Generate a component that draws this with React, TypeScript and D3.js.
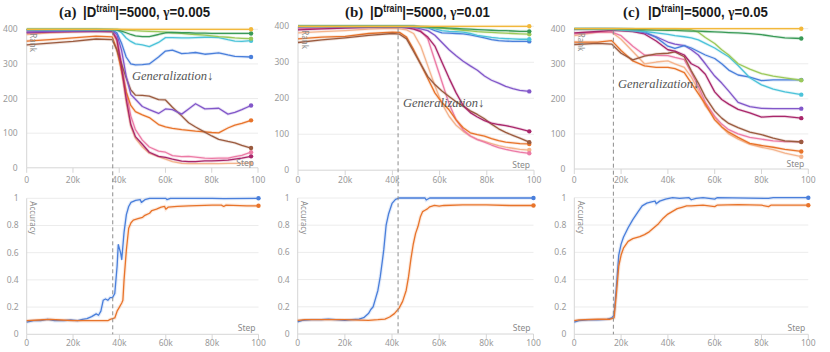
import React from "react";
import * as d3 from "d3";

// ---------- tick labels / text ----------
const stepTickValues = [0, 20, 40, 60, 80, 100];
const stepTickLabels = ["0", "20k", "40k", "60k", "80k", "100"];
const rankTickValues = [0, 100, 200, 300, 400];
const accTickValues = [0, 0.2, 0.4, 0.6, 0.8, 1];
const accTickLabels = ["0", "0.2", "0.4", "0.6", "0.8", "1"];
const panelLetters = ["(a)", "(b)", "(c)"];
const trainSizes = ["5000", "5000", "5000"];
const gammas = ["0.005", "0.01", "0.05"];
const generalizationStep = [37.2, 42.4, 16.7];

// ---------- rank data (panel a) ----------
const rankStepsA = [0, 10, 20, 30, 37, 39, 41, 43, 45, 47, 50, 53, 57, 60, 63, 67, 70, 73, 77, 80, 83, 87, 90, 93, 97];
const yellowA = [400, 400, 400, 400, 400, 400, 400, 400, 400, 400, 400, 400, 400, 400, 400, 400, 400, 400, 400, 400, 400, 400, 400, 400, 400];
const greenA = [400, 400, 400, 400, 399, 398, 395, 390, 385, 381, 379, 379, 385, 390, 391, 390, 390, 389, 389, 388, 388, 388, 388, 388, 388];
const lightGreenA = [400, 400, 400, 400, 400, 400, 399, 398, 397, 396, 395, 394, 393, 392, 390, 388, 386, 385, 383, 381, 379, 377, 375, 374, 373];
const cyanA = [399, 399, 399, 399, 399, 398, 390, 375, 365, 358, 355, 350, 362, 376, 376, 375, 375, 376, 377, 377, 376, 370, 366, 365, 367];
const blueA = [398, 398, 398, 398, 398, 390, 360, 320, 300, 297, 298, 300, 320, 337, 340, 330, 331, 333, 328, 330, 332, 326, 322, 321, 320];
const purpleA = [392, 394, 395, 396, 396, 385, 340, 265, 212, 198, 177, 168, 157, 170, 168, 155, 170, 185, 170, 171, 172, 155, 160, 168, 180];
const magentaA = [390, 392, 393, 394, 393, 370, 290, 200, 125, 90, 68, 45, 33, 30, 25, 19, 18, 18, 20, 20, 21, 22, 25, 28, 33];
const brownA = [355, 360, 365, 372, 370, 340, 300, 260, 225, 210, 209, 207, 197, 196, 175, 150, 130, 118, 103, 92, 82, 76, 72, 65, 57];
const orangeA = [366, 370, 375, 380, 378, 340, 280, 220, 180, 162, 153, 145, 125, 118, 114, 110, 108, 106, 104, 102, 101, 115, 123, 128, 137];
const pinkA = [395, 396, 397, 397, 396, 375, 300, 220, 150, 110, 80, 60, 48, 45, 35, 32, 33, 31, 28, 27, 28, 28, 32, 36, 45];
const peachA = [385, 390, 392, 395, 392, 365, 280, 190, 120, 85, 60, 42, 32, 25, 18, 13, 12, 12, 12, 12, 12, 13, 13, 13, 14];

// ---------- rank data (panel b) ----------
const rankStepsB = [0, 10, 20, 30, 40, 43, 46, 49, 52, 55, 58, 61, 64, 67, 70, 73, 76, 79, 82, 85, 88, 91, 94, 98];
const yellowB = [400, 400, 400, 400, 400, 400, 400, 400, 400, 400, 400, 400, 400, 400, 400, 400, 400, 400, 400, 400, 400, 400, 400, 400];
const greenB = [400, 400, 400, 400, 400, 400, 400, 400, 399, 398, 397, 396, 395, 394, 393, 392, 391, 390, 389, 388, 388, 387, 386, 386];
const lightGreenB = [400, 400, 400, 400, 400, 400, 400, 400, 399, 398, 396, 395, 393, 391, 389, 387, 385, 384, 383, 382, 381, 380, 379, 378];
const cyanB = [400, 400, 400, 400, 400, 400, 400, 400, 399, 398, 393, 388, 386, 385, 384, 380, 375, 372, 369, 367, 366, 365, 364, 364];
const blueB = [400, 400, 400, 400, 400, 400, 400, 400, 398, 396, 388, 382, 381, 380, 379, 376, 372, 368, 363, 360, 359, 358, 358, 358];
const purpleB = [398, 399, 399, 399, 399, 399, 398, 397, 393, 388, 375, 355, 335, 318, 303, 290, 278, 262, 250, 242, 233, 227, 222, 219];
const magentaB = [390, 393, 395, 397, 398, 398, 396, 392, 385, 370, 345, 300, 256, 215, 180, 160, 148, 138, 131, 127, 124, 120, 115, 108];
const brownB = [355, 362, 368, 375, 380, 378, 365, 330, 295, 260, 238, 220, 205, 190, 178, 165, 155, 143, 128, 115, 105, 97, 89, 78];
const orangeB = [365, 370, 372, 380, 384, 383, 370, 335, 295, 255, 215, 188, 168, 140, 118, 104, 99, 95, 88, 82, 78, 76, 74, 73];
const pinkB = [393, 395, 397, 398, 398, 398, 397, 395, 388, 365, 305, 245, 185, 140, 112, 95, 85, 78, 70, 63, 58, 54, 50, 47];
const peachB = [382, 385, 388, 392, 394, 393, 390, 380, 345, 290, 235, 185, 150, 125, 108, 95, 86, 80, 74, 68, 64, 61, 58, 56];

// ---------- rank data (panel c) ----------
const rankStepsC = [0, 10, 16, 20, 25, 30, 35, 40, 43, 47, 50, 53, 56, 60, 63, 66, 70, 75, 80, 85, 90, 97];
const yellowC = [400, 400, 400, 400, 400, 400, 400, 400, 400, 400, 400, 400, 400, 400, 400, 400, 400, 400, 400, 400, 400, 400];
const greenC = [400, 400, 400, 399, 398, 397, 396, 395, 395, 394, 393, 393, 392, 391, 390, 389, 388, 386, 383, 378, 374, 372];
const lightGreenC = [400, 400, 400, 400, 400, 400, 400, 399, 399, 398, 397, 390, 375, 358, 340, 325, 300, 285, 272, 265, 260, 253];
const cyanC = [400, 399, 398, 396, 394, 392, 388, 384, 380, 377, 374, 368, 358, 345, 332, 320, 295, 260, 240, 228, 220, 212];
const blueC = [400, 400, 400, 400, 399, 392, 375, 350, 344, 352, 345, 335, 325, 315, 300, 282, 268, 262, 252, 254, 254, 254];
const purpleC = [398, 399, 399, 398, 395, 388, 377, 362, 356, 352, 340, 325, 300, 265, 245, 222, 190, 178, 173, 172, 172, 172];
const magentaC = [388, 392, 395, 394, 392, 385, 365, 340, 336, 325, 300, 290, 270, 220, 198, 185, 170, 160, 148, 150, 150, 145];
const brownC = [355, 358, 356, 330, 311, 322, 328, 330, 334, 320, 280, 245, 205, 165, 145, 130, 118, 105, 98, 88, 80, 77];
const orangeC = [362, 362, 366, 338, 308, 294, 290, 290, 286, 275, 245, 215, 185, 140, 120, 105, 90, 73, 67, 62, 56, 50];
const pinkC = [385, 390, 390, 380, 350, 325, 324, 323, 318, 312, 275, 235, 190, 150, 128, 112, 100, 90, 85, 80, 78, 78];
const peachC = [380, 390, 390, 370, 335, 300, 305, 308, 300, 290, 262, 225, 180, 148, 120, 100, 85, 70, 62, 55, 45, 35];

// ---------- accuracy data ----------
const accStepsBlueA = [0, 3, 6, 9, 12, 16, 19, 22, 24, 26, 28, 30, 31, 32, 33, 34, 35, 36, 37, 38, 39, 39.5, 40.5, 41, 42, 43, 44, 45, 47, 49, 49.5, 51, 53, 60, 60.5, 62, 80, 85, 100];
const accBlueA = [0.09, 0.1, 0.1, 0.11, 0.1, 0.1, 0.105, 0.1, 0.11, 0.115, 0.13, 0.15, 0.14, 0.17, 0.25, 0.26, 0.25, 0.27, 0.27, 0.3, 0.5, 0.66, 0.6, 0.55, 0.75, 0.88, 0.94, 0.97, 0.985, 0.99, 0.97, 0.99, 1.0, 1.0, 0.99, 1.0, 1.0, 0.998, 1.0];
const accStepsOrangeA = [0, 5, 10, 15, 20, 30, 35, 36, 37, 38, 39, 40, 41, 41.5, 42, 43, 44, 45, 46, 48, 50, 51, 53, 54, 56, 58, 59.5, 60, 61, 65, 70, 80, 84, 85, 86, 95, 100];
const accOrangeA = [0.1, 0.105, 0.11, 0.105, 0.1, 0.1, 0.1, 0.11, 0.115, 0.12, 0.17, 0.2, 0.23, 0.25, 0.4, 0.62, 0.78, 0.82, 0.84, 0.85, 0.86, 0.875, 0.89, 0.91, 0.92, 0.935, 0.94, 0.92, 0.935, 0.94, 0.945, 0.95, 0.95, 0.94, 0.95, 0.945, 0.945];

const accStepsBlueB = [0, 2, 6, 10, 13, 16, 20, 23, 26, 28, 30, 31, 32, 33, 34, 35, 36, 36.5, 37.5, 38.5, 40, 41.5, 43, 50, 54, 54.5, 56, 100];
const accBlueB = [0.09, 0.1, 0.105, 0.105, 0.11, 0.105, 0.1, 0.105, 0.11, 0.12, 0.15, 0.18, 0.2, 0.26, 0.32, 0.42, 0.55, 0.62, 0.8, 0.88, 0.96, 0.99, 1.0, 1.0, 1.0, 0.985, 1.0, 1.0];
const accStepsOrangeB = [0, 3, 10, 20, 30, 34, 37, 39, 41, 43, 44.5, 46, 47, 48, 49, 50, 51, 52, 53, 54, 55, 56, 58, 60, 62, 70, 80, 90, 100];
const accOrangeB = [0.1, 0.105, 0.105, 0.105, 0.1, 0.105, 0.11, 0.125, 0.15, 0.19, 0.24, 0.32, 0.42, 0.55, 0.66, 0.74, 0.79, 0.86, 0.9, 0.91, 0.92, 0.935, 0.945, 0.94, 0.945, 0.95, 0.95, 0.945, 0.945];

const accStepsBlueC = [0, 2, 6, 10, 14, 16, 17, 18, 19, 20, 21, 23, 25, 27, 29, 31, 33, 34.5, 35, 36.5, 39, 42, 45, 49, 50, 52, 55, 60, 61, 83, 85, 100];
const accBlueC = [0.09, 0.1, 0.105, 0.105, 0.11, 0.12, 0.14, 0.35, 0.58, 0.66, 0.71, 0.78, 0.84, 0.89, 0.94, 0.96, 0.97, 0.975, 0.955, 0.975, 0.99, 1.0, 0.995, 1.0, 0.985, 0.995, 1.0, 0.99, 1.0, 0.995, 1.0, 1.0];
const accStepsOrangeC = [0, 2, 10, 15, 17, 18, 19, 20, 21, 23, 25, 28, 30, 32, 34, 36, 38, 40, 42, 44, 46, 48, 50, 55, 60, 61, 70, 80, 83, 84, 100];
const accOrangeC = [0.1, 0.105, 0.11, 0.11, 0.12, 0.3, 0.5, 0.58, 0.63, 0.68, 0.7, 0.715, 0.73, 0.75, 0.78, 0.81, 0.85, 0.88, 0.9, 0.92, 0.93, 0.94, 0.94, 0.945, 0.935, 0.945, 0.95, 0.945, 0.935, 0.945, 0.945];

// ---------- assembled per panel ----------
const rankSteps = [rankStepsA, rankStepsB, rankStepsC];
const rankSeries = [
  [yellowA, greenA, lightGreenA, cyanA, blueA, purpleA, magentaA, brownA, orangeA, pinkA, peachA],
  [yellowB, greenB, lightGreenB, cyanB, blueB, purpleB, magentaB, brownB, orangeB, pinkB, peachB],
  [yellowC, greenC, lightGreenC, cyanC, blueC, purpleC, magentaC, brownC, orangeC, pinkC, peachC],
];
const accSeries = [
  [[accStepsBlueA, accBlueA], [accStepsOrangeA, accOrangeA]],
  [[accStepsBlueB, accBlueB], [accStepsOrangeB, accOrangeB]],
  [[accStepsBlueC, accBlueC], [accStepsOrangeC, accOrangeC]],
];

// ---------- styles / layout ----------
const rankColors = ["#f2b83a", "#3a9a57", "#9bc95a", "#4cc3d9", "#4a7fdb", "#8257c9", "#a9276b", "#9b5b3f", "#e8742b", "#ec7ba6", "#f4b48d"];
const accColors = ["#4a7fdb", "#e8742b"];
type Box = { x0: number; x1: number; yTop: number; yBot: number };
const topBoxes: Box[] = [
  { x0: 26.7, x1: 258, yTop: 29.3, yBot: 167.8 },
  { x0: 298, x1: 534, yTop: 26.3, yBot: 170.2 },
  { x0: 574.3, x1: 808.3, yTop: 28.7, yBot: 169 },
];
const botBoxes: Box[] = [
  { x0: 26.7, x1: 258.5, yTop: 198.3, yBot: 334.3 },
  { x0: 297.7, x1: 533.5, yTop: 198, yBot: 334 },
  { x0: 574.3, x1: 808.3, yTop: 197.7, yBot: 334.3 },
];
// [letter x, formula start x]
const titleLayout = [
  [59, 83],
  [345, 370],
  [623, 648],
];
const titleSqueeze = 0.88;
const genLabelPos = [[132, 80], [403, 107], [618, 87.5]];
const SANS = "'Noto Sans', 'DejaVu Sans', sans-serif";
const TSANS = "'Liberation Sans', Arial, sans-serif";
const TSERIF = "'Liberation Serif', 'Times New Roman', serif";
const TICK = "#9a9a9a";
const GRID = "#ececec";
const AXIS = "#d6d6d6";

function Panel({ i }: { i: number }) {
  const tb = topBoxes[i];
  const bb = botBoxes[i];
  const xT = d3.scaleLinear().domain([0, 100]).range([tb.x0, tb.x1]);
  const yT = d3.scaleLinear().domain([0, 400]).range([tb.yBot, tb.yTop]);
  const xB = d3.scaleLinear().domain([0, 100]).range([bb.x0, bb.x1]);
  const yB = d3.scaleLinear().domain([0, 1]).range([bb.yBot, bb.yTop]);
  const steps = rankSteps[i];
  const rankLine = d3
    .line<number>()
    .x((_, k) => xT(steps[k]))
    .y((d) => yT(d));
  const order = rankSeries[i].map((_, k) => k).reverse();
  const gx = xT(generalizationStep[i]);
  const [lx, fx] = titleLayout[i];

  return (
    <g>
      {/* title */}
      <text x={lx} y={17} fontWeight="bold" fontSize={15} fill="#1a1a1a" fontFamily={TSERIF}>
        {panelLetters[i]}
      </text>
      <g transform={`translate(${fx},17) scale(${titleSqueeze},1)`}>
        <text x={0} y={0} fontWeight="bold" fontSize={15} fill="#1a1a1a" fontFamily={TSANS}>
          |D<tspan fontSize={10} dy={-5.5}>train</tspan>
          <tspan dy={5.5}>{`|=${trainSizes[i]}, `}</tspan>
          <tspan fontFamily={TSERIF}>γ</tspan>
          {`=${gammas[i]}`}
        </text>
      </g>

      {/* ---- top (rank) chart ---- */}
      {rankTickValues.map((v) => (
        <g key={"rg" + v}>
          {v > 0 && <line x1={tb.x0} x2={tb.x1} y1={yT(v)} y2={yT(v)} stroke={GRID} />}
          <text x={tb.x0 - 9} y={yT(v)} dy="0.35em" textAnchor="end" fontSize={8.5} fill={TICK} fontFamily={SANS}>
            {v}
          </text>
        </g>
      ))}
      <line x1={tb.x0} x2={tb.x0} y1={tb.yTop} y2={tb.yBot} stroke={AXIS} />
      <line x1={tb.x0} x2={tb.x1} y1={tb.yBot} y2={tb.yBot} stroke={AXIS} />
      {stepTickValues.map((v, k) => (
        <g key={"tx" + v}>
          <line x1={xT(v)} x2={xT(v)} y1={tb.yBot} y2={tb.yBot + 5} stroke={AXIS} />
          <text x={xT(v)} y={183} textAnchor="middle" fontSize={8.5} fill={TICK} fontFamily={SANS}>
            {stepTickLabels[k]}
          </text>
        </g>
      ))}
      {order.map((k) => (
        <g key={"rl" + k}>
          <path d={rankLine(rankSeries[i][k]) || ""} fill="none" stroke={rankColors[k]} strokeWidth={3} strokeOpacity={0.18} />
          <path d={rankLine(rankSeries[i][k]) || ""} fill="none" stroke={rankColors[k]} strokeWidth={1.3} strokeLinejoin="round" />
          <circle cx={xT(steps[steps.length - 1])} cy={yT(rankSeries[i][k][steps.length - 1])} r={2.2} fill={rankColors[k]} />
        </g>
      ))}
      <text transform={`translate(${tb.x0 + 3.5},${tb.yTop + 4}) rotate(90)`} fontSize={8} fill="#8a8a8a" fontFamily={SANS}>
        Rank
      </text>
      <text x={tb.x1 - 4} y={tb.yBot - 2} textAnchor="end" fontSize={8.5} fill="#8a8a8a" fontFamily={SANS}>
        Step
      </text>
      <text
        x={genLabelPos[i][0]}
        y={genLabelPos[i][1]}
        fontSize={12.5}
        fontStyle="italic"
        fill="#555"
        fontFamily="'Liberation Serif', 'DejaVu Serif', serif"
      >
        Generalization↓
      </text>

      {/* ---- bottom (accuracy) chart ---- */}
      {accTickValues.map((v, k) => (
        <g key={"ag" + v}>
          {v > 0 && <line x1={bb.x0} x2={bb.x1} y1={yB(v)} y2={yB(v)} stroke={GRID} />}
          <text x={bb.x0 - 8} y={yB(v)} dy="0.35em" textAnchor="end" fontSize={8.5} fill={TICK} fontFamily={SANS}>
            {accTickLabels[k]}
          </text>
        </g>
      ))}
      <line x1={bb.x0} x2={bb.x0} y1={bb.yTop} y2={bb.yBot} stroke={AXIS} />
      <line x1={bb.x0} x2={bb.x1} y1={bb.yBot} y2={bb.yBot} stroke={AXIS} />
      {stepTickValues.map((v, k) => (
        <g key={"bx" + v}>
          <line x1={xB(v)} x2={xB(v)} y1={bb.yBot} y2={bb.yBot + 5} stroke={AXIS} />
          <text x={xB(v)} y={346} textAnchor="middle" fontSize={8.5} fill={TICK} fontFamily={SANS}>
            {stepTickLabels[k]}
          </text>
        </g>
      ))}
      {accSeries[i].map(([xs, ys], k) => {
        const ln = d3
          .line<number>()
          .x((_, j) => xB(xs[j]))
          .y((d) => yB(d));
        const d = ln(ys) || "";
        return (
          <g key={"al" + k}>
            <path d={d} fill="none" stroke={accColors[k]} strokeWidth={3.5} strokeOpacity={0.15} />
            <path d={d} fill="none" stroke={accColors[k]} strokeWidth={1.3} strokeLinejoin="round" />
            <circle cx={xB(xs[xs.length - 1])} cy={yB(ys[ys.length - 1])} r={2.2} fill={accColors[k]} />
          </g>
        );
      })}
      <text transform={`translate(${bb.x0 + 3.5},${bb.yTop + 3}) rotate(90)`} fontSize={8} fill="#8a8a8a" fontFamily={SANS}>
        Accuracy
      </text>
      <text x={bb.x1 - 3} y={bb.yBot - 3} textAnchor="end" fontSize={8.5} fill="#8a8a8a" fontFamily={SANS}>
        Step
      </text>

      {/* generalization dashed marker */}
      <line x1={gx} x2={gx} y1={tb.yTop + 2} y2={bb.yBot} stroke="#8c8c8c" strokeDasharray="4,3" strokeWidth={1} />
    </g>
  );
}

export default function App() {
  return (
    <svg
      width={830}
      height={352}
      viewBox="0 0 830 352"
      style={{ position: "absolute", left: 0, top: 0, background: "#fff" }}
    >
      <rect width={830} height={352} fill="#fff" />
      {[0, 1, 2].map((i) => (
        <Panel key={i} i={i} />
      ))}
    </svg>
  );
}
